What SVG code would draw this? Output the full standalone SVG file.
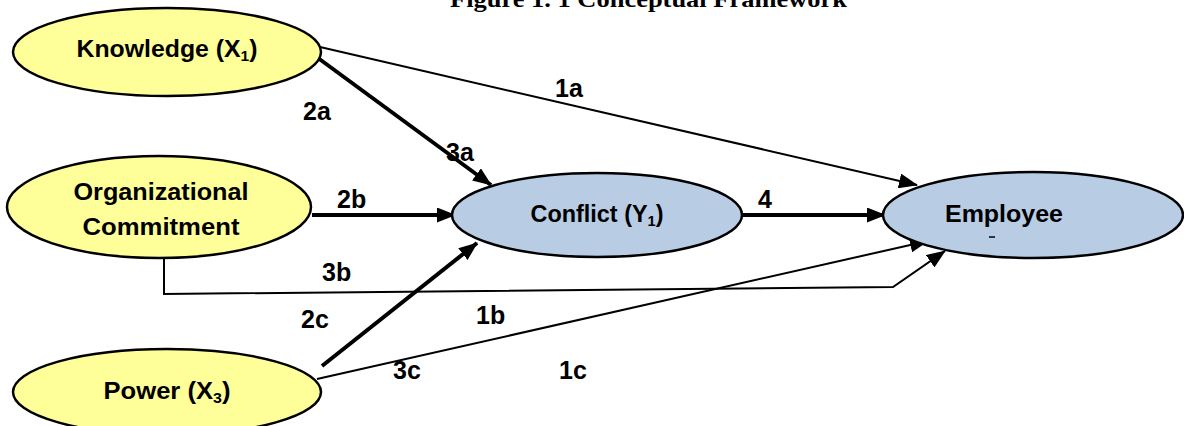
<svg xmlns="http://www.w3.org/2000/svg" width="1184" height="426" viewBox="0 0 1184 426">
<style>
.yel{fill:#ffff99;stroke:#000;stroke-width:2.5}
.blu{fill:#b8cce4;stroke:#000;stroke-width:2.5}
.nt{font-family:"Liberation Sans",Arial,sans-serif;font-weight:bold;font-size:24px;fill:#000;text-anchor:middle}
.lb{font-family:"Liberation Sans",Arial,sans-serif;font-weight:bold;font-size:25px;fill:#000}
.thin{stroke:#000;stroke-width:2;fill:none}
.thick{stroke:#000;stroke-width:4;fill:none}
.title{font-family:"Liberation Serif","Times New Roman",serif;font-weight:bold;font-size:24px;fill:#000}
</style>
<defs>
<marker id="ah" markerUnits="userSpaceOnUse" markerWidth="19" markerHeight="15" refX="18" refY="7.5" orient="auto">
<path d="M0,0 L19,7.5 L0,15 Z" fill="#000"/>
</marker>
</defs>
<text class="title" x="450" y="7" textLength="397" lengthAdjust="spacingAndGlyphs">Figure 1. 1 Conceptual Framework</text>
<g id="connectors">
<line class="thin" x1="320" y1="47" x2="917" y2="185" marker-end="url(#ah)"/>
<line class="thick" x1="318" y1="58" x2="491" y2="185" marker-end="url(#ah)"/>
<line class="thick" x1="312" y1="215" x2="455" y2="215" marker-end="url(#ah)"/>
<line class="thick" x1="743" y1="215" x2="885" y2="215" marker-end="url(#ah)"/>
<polyline class="thin" points="164,258 164,294 893,287 945,251" marker-end="url(#ah)"/>
<line class="thick" x1="322" y1="366" x2="477" y2="243" marker-end="url(#ah)"/>
<line class="thin" x1="317" y1="379" x2="928" y2="241" marker-end="url(#ah)"/>
</g>
<g id="knowledge">
<ellipse class="yel" cx="167" cy="52" rx="154" ry="44"/>
<text class="nt" x="167" y="57" textLength="181" lengthAdjust="spacingAndGlyphs">Knowledge (X<tspan font-size="15" dy="4">1</tspan><tspan dy="-4">)</tspan></text>
</g>
<g id="commitment">
<ellipse class="yel" cx="159" cy="207" rx="152" ry="51"/>
<text class="nt" x="161" y="200" textLength="175" lengthAdjust="spacingAndGlyphs">Organizational</text>
<text class="nt" x="161" y="235" textLength="157" lengthAdjust="spacingAndGlyphs">Commitment</text>
</g>
<g id="power">
<ellipse class="yel" cx="167" cy="392" rx="154" ry="43"/>
<text class="nt" x="167" y="399" textLength="127" lengthAdjust="spacingAndGlyphs">Power (X<tspan font-size="15" dy="4">3</tspan><tspan dy="-4">)</tspan></text>
</g>
<g id="conflict">
<ellipse class="blu" cx="597" cy="215" rx="145" ry="42"/>
<text class="nt" x="597" y="222" textLength="133" lengthAdjust="spacingAndGlyphs">Conflict (Y<tspan font-size="15" dy="4">1</tspan><tspan dy="-4">)</tspan></text>
</g>
<g id="employee">
<ellipse class="blu" cx="1033" cy="215" rx="150" ry="43"/>
<text class="nt" x="1004" y="222" textLength="118" lengthAdjust="spacingAndGlyphs">Employee</text>
<line x1="989" y1="237" x2="995" y2="237" stroke="#000" stroke-width="1.5"/>
</g>
<g id="labels">
<text class="lb" x="555" y="97">1a</text>
<text class="lb" x="303" y="120">2a</text>
<text class="lb" x="446" y="161">3a</text>
<text class="lb" x="337" y="208">2b</text>
<text class="lb" x="758" y="208">4</text>
<text class="lb" x="322" y="281">3b</text>
<text class="lb" x="301" y="328">2c</text>
<text class="lb" x="476" y="324">1b</text>
<text class="lb" x="393" y="379">3c</text>
<text class="lb" x="559" y="379">1c</text>
</g>
</svg>
